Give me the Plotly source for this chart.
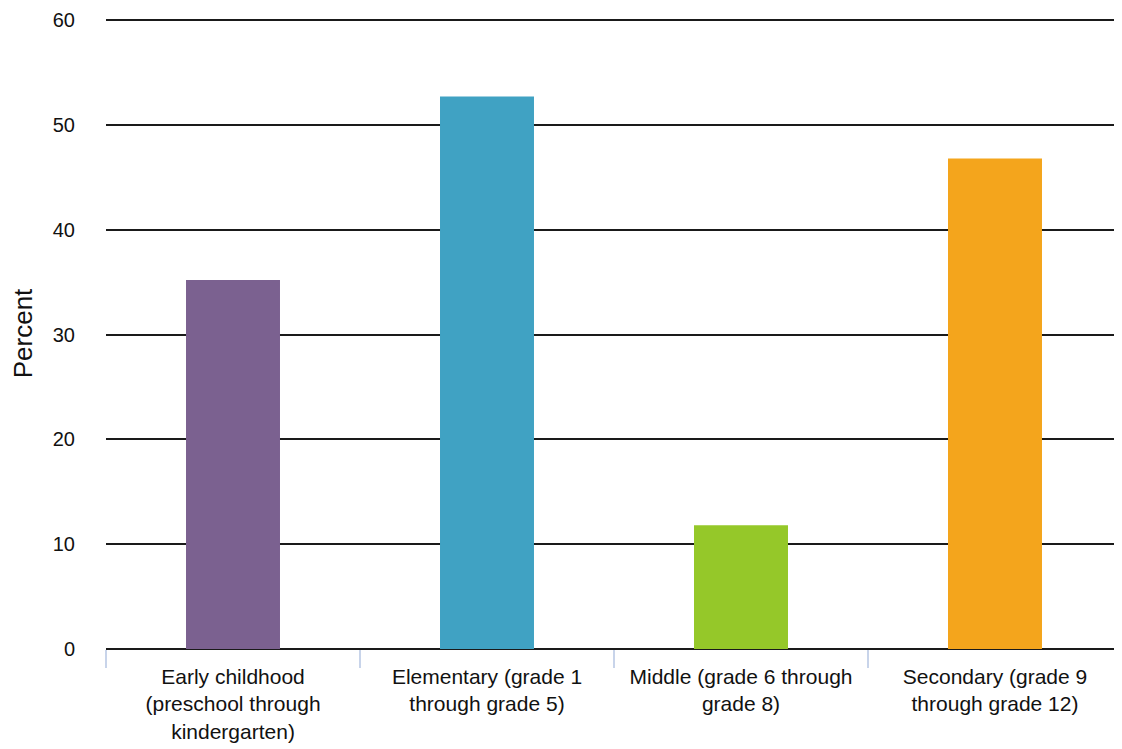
import plotly.graph_objects as go

categories = [
    "Early childhood<br>(preschool through<br>kindergarten)",
    "Elementary (grade 1<br>through grade 5)",
    "Middle (grade 6 through<br>grade 8)",
    "Secondary (grade 9<br>through grade 12)",
]
values = [35.2, 52.7, 11.8, 46.8]
colors = ["#7B6190", "#40A2C3", "#95C829", "#F4A51C"]
y_ticks = [0, 10, 20, 30, 40, 50, 60]

FONT = "Liberation Sans, Arial, Helvetica, sans-serif"

fig = go.Figure(
    go.Bar(
        x=categories,
        y=values,
        marker=dict(color=colors, line=dict(width=0)),
        width=0.37,
        hoverinfo="x+y",
    )
)

# page body has an 8px margin, so the figure is shifted by 8px; compensate
fig.update_layout(
    width=1114,
    height=741,
    margin=dict(l=98, r=0, t=10, b=100, autoexpand=False),
    paper_bgcolor="white",
    plot_bgcolor="white",
    font=dict(family=FONT, size=20, color="#111"),
    showlegend=False,
)

fig.update_xaxes(
    type="category",
    automargin=False,
    tickson="boundaries",
    ticks="outside",
    ticklen=18,
    tickwidth=2,
    tickcolor="#C8D4EA",
    showgrid=False,
    showline=False,
    ticklabelstandoff=13,
    ticklabeloverflow="allow",
    tickfont=dict(size=21, family=FONT, color="#111"),
)

fig.update_yaxes(
    range=[0, 60.2],
    automargin=False,
    tickvals=y_ticks,
    showgrid=True,
    gridcolor="#1A1A1A",
    gridwidth=2,
    zeroline=True,
    zerolinecolor="#1A1A1A",
    zerolinewidth=2,
    showline=False,
    ticks="",
    ticklabelstandoff=30,
    ticklabeloverflow="allow",
    tickfont=dict(size=20, family=FONT, color="#111"),
    title=dict(text="Percent", font=dict(size=26, family=FONT, color="#111"), standoff=16),
)

fig.write_html("out.html")
